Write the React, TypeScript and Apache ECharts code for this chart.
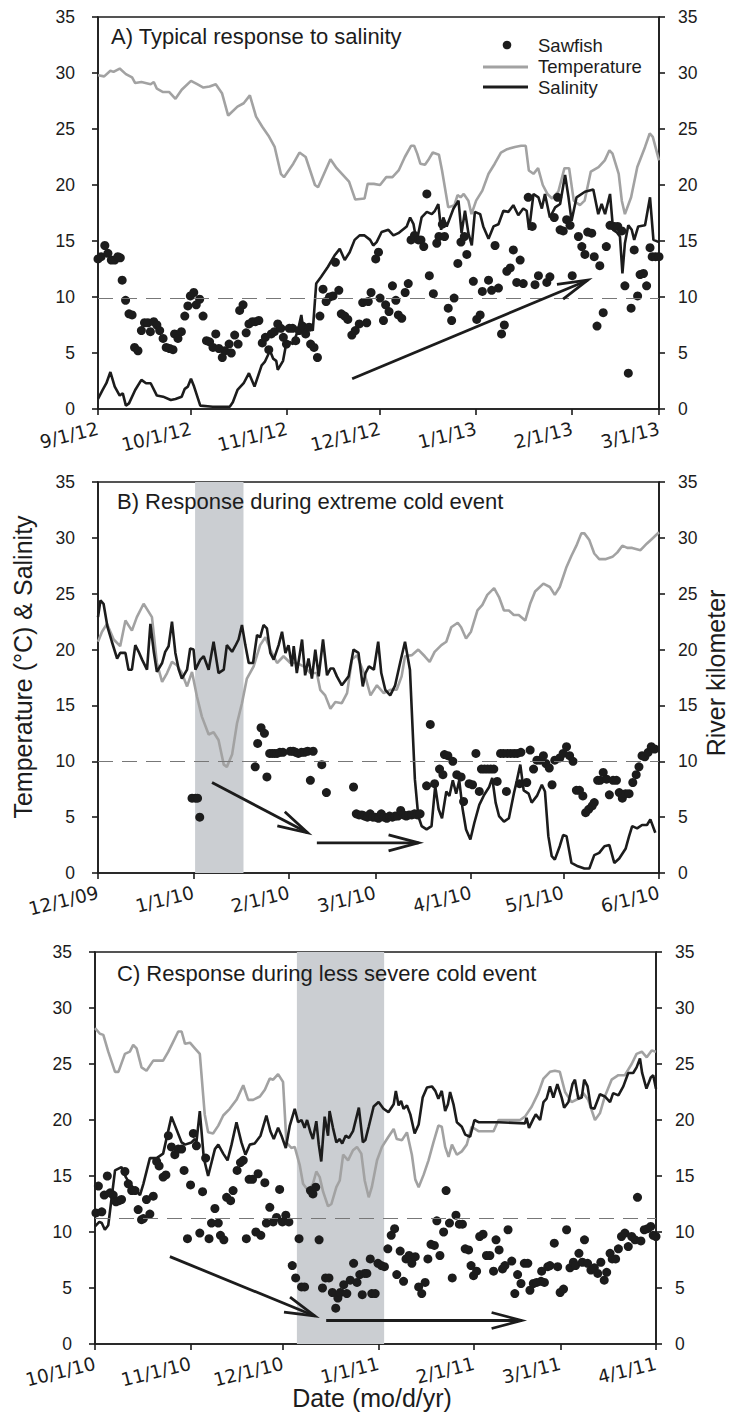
import React, { useEffect, useRef } from "react";
import * as echarts from "echarts";

const FONT = '"Liberation Sans", Arial, Helvetica, sans-serif';
const DATE_FONT = '"DejaVu Sans", "Liberation Sans", Arial, sans-serif';
const INK = "#1c1c1c";
const TEMP_GRAY = "#a2a2a2";
const SHADE = "#cbced2";

// ---------- Panel A: 9/1/12 – 3/1/13 (x = days since 9/1/12) ----------
const ticksA = [0, 30, 61, 91, 122, 153, 181];
const tickLabelsA = ["9/1/12", "10/1/12", "11/1/12", "12/1/12", "1/1/13", "2/1/13", "3/1/13"];
const tempA = [
  [0, 29.8], [2, 29.7], [4, 30.2], [5, 30.1], [7, 30.4], [9, 29.9], [11, 29.6], [12, 29.1], [14, 29.2],
  [17, 29.0], [18, 29.2], [19, 28.6], [21, 28.3], [23, 28.3], [25, 27.7], [27, 28.5], [30, 29.3], [32, 29.0],
  [34, 28.7], [36, 28.8], [38, 29.0], [40, 28.2], [42, 26.2], [45, 27.0], [47, 27.3], [49, 28.0], [51, 26.1],
  [53, 25.2], [55, 24.4], [57, 23.4], [59, 21.0], [60, 20.7], [63, 21.9], [65, 22.9], [67, 22.5], [70, 20.0],
  [71, 19.8], [75, 22.3], [77, 21.5], [81, 20.3], [83, 18.7], [86, 18.8], [87, 20.1], [89, 20.1], [91, 20.0],
  [93, 20.7], [95, 20.7], [97, 21.3], [99, 22.5], [101, 23.5], [102, 23.5], [103, 22.8], [104, 21.9],
  [105.5, 21.8], [106.5, 22.2], [108, 22.9], [110, 22.7], [111, 21.3], [113, 18.0], [115, 18.2], [116, 19.1],
  [117, 18.9], [118, 19.2], [119.5, 18.6], [120.5, 17.4], [122, 18.6], [124, 19.5], [126, 21.0], [128, 21.9],
  [130, 22.9], [132, 23.2], [134.5, 23.4], [136.5, 23.5], [138, 23.5], [139, 21.3], [140.5, 21.0], [142, 21.5],
  [143.5, 20.0], [145, 19.2], [146.5, 18.8], [148.5, 19.4], [150.5, 21.5], [152, 21.5], [153.5, 18.6],
  [155.5, 18.2], [157, 18.6], [159, 21.2], [161.5, 21.6], [163.5, 22.2], [165, 23.1], [166, 22.8], [168, 21.0],
  [169, 18.6], [170, 17.4], [172, 18.9], [174, 21.6], [176.5, 23.4], [178, 24.6], [179, 24.3], [181, 22.2],
];
const salA = [
  [0, 0.9], [1.5, 1.7], [2.7, 2.3], [4, 3.3], [5.4, 2.0], [7, 1.2], [8, 1.4], [9, 0.3], [10, 0.5], [12, 1.7],
  [14, 2.6], [15.5, 2.3], [17, 2.3], [19, 1.2], [21, 1.1], [23.5, 0.8], [25, 0.9], [27, 1.1], [28, 1.8],
  [29, 2.0], [30, 2.7], [31, 2.0], [33, 0.3], [37, 0.2], [42.5, 0.2], [43.5, 0.6], [45, 1.7], [47, 2.3],
  [48.7, 3.2], [50.5, 2.0], [52.8, 3.9], [53.8, 4.2], [55.5, 5.2], [56.5, 4.5], [57.5, 4.3], [58, 3.5],
  [59.7, 4.3], [60.5, 5.5], [61.8, 6.0], [62.9, 5.8], [64.5, 7.0], [65.6, 8.4], [66.6, 6.4], [67.7, 7.5],
  [69.3, 7.0], [70.4, 11.2], [72, 11.8], [74.2, 12.7], [76.3, 13.7], [78, 14.3], [79.6, 13.3], [81.2, 14.0],
  [82.8, 15.1], [84.4, 15.5], [86, 15.5], [87.8, 15.1], [88.8, 14.6], [89.9, 14.9], [91.5, 15.8], [93.7, 16.0],
  [95.3, 15.5], [96.9, 15.7], [99.6, 16.3], [100.7, 17.1], [101.8, 16.5], [102.8, 14.9], [104.4, 17.1],
  [106.1, 17.6], [107.7, 17.4], [108.7, 17.7], [109.8, 18.3], [110.7, 16.0], [111.4, 17.1], [112.5, 16.3],
  [114.7, 17.9], [116.3, 18.6], [117.3, 15.7], [118.4, 17.7], [119.5, 15.7], [120.6, 14.6], [121.6, 17.6],
  [123.3, 17.4], [124.3, 16.3], [126, 15.2], [127.6, 16.3], [129.2, 16.5], [130.8, 17.7], [132.4, 17.6],
  [134, 18.2], [135.6, 17.3], [137.2, 17.9], [138.3, 17.7], [139.1, 16.0], [140.5, 19.2], [142.1, 18.9],
  [143.2, 17.9], [144.2, 19.2], [145.8, 17.1], [147.5, 18.0], [149.1, 18.3], [150.7, 20.9], [151.8, 18.9],
  [152.8, 16.8], [154.4, 18.9], [157.1, 19.4], [159.8, 19.6], [161.4, 17.4], [162.5, 18.3], [163.6, 17.4],
  [165.2, 19.2], [166.2, 16.0], [167.3, 15.8], [168.4, 15.4], [169.2, 12.1], [170, 14.8], [171.1, 16.4],
  [172.2, 16.0], [173, 15.1], [174.3, 16.3], [176.5, 16.4], [178.1, 18.9], [179.2, 15.1], [181, 14.9],
];
const sawA = [
  [0, 13.4], [1, 13.6], [2.2, 14.6], [3.2, 13.9], [4.3, 13.3], [5.4, 13.3], [6.4, 13.6], [7.2, 13.5],
  [7.8, 11.5], [8.9, 9.7], [10, 8.5], [11, 8.4], [11.8, 5.5], [12.9, 5.2], [14, 7.0], [15, 7.7], [16.1, 7.7],
  [16.9, 6.9], [18, 7.8], [19, 7.5], [19.9, 7.0], [21, 6.3], [22, 5.5], [23.1, 5.4], [24.2, 5.3], [24.7, 6.7],
  [25.8, 6.3], [26.9, 6.9], [28, 8.3], [29, 9.2], [29.8, 10.1], [30.9, 10.4], [31.7, 9.3], [32.8, 9.8],
  [33.9, 8.3], [35, 6.1], [36, 6.0], [37.1, 5.5], [38, 6.7], [39, 5.4], [40.1, 4.6], [40.9, 5.2], [42.3, 5.8],
  [43, 5.0], [44.1, 6.6], [45.2, 5.8], [45.7, 8.8], [46.8, 9.3], [47.8, 6.8], [48.7, 7.6], [49.8, 7.8],
  [50.8, 7.8], [51.9, 7.9], [53, 5.9], [54, 6.4], [55.1, 5.3], [55.9, 6.7], [56.9, 6.9], [58, 7.6], [59, 7.2],
  [59.8, 6.4], [60.8, 5.8], [61.7, 7.2], [62.8, 7.2], [63.8, 6.1], [64.9, 7.0], [66, 7.4], [67, 6.7],
  [68.1, 7.3], [68.6, 5.8], [69.7, 5.5], [70.8, 4.6], [71.6, 8.3], [72.6, 10.7], [73.6, 9.6], [74.7, 10.0],
  [75.8, 10.1], [76.6, 13.1], [77.7, 10.6], [78.5, 8.5], [79.6, 8.3], [80.6, 8.0], [81.9, 6.6], [83, 7.0],
  [84.3, 7.6], [85.4, 9.5], [86.7, 7.7], [87.2, 9.6], [88.1, 10.4], [89.6, 13.4], [90.5, 14.0], [91, 9.9],
  [92.1, 7.9], [92.8, 9.3], [93.9, 8.7], [95, 11.0], [96.1, 9.7], [96.9, 8.4], [98, 8.1], [99.1, 10.4],
  [100.1, 11.2], [101, 15.1], [102.1, 15.5], [103.4, 15.1], [104.2, 15.1], [105.1, 14.5], [106.1, 19.2],
  [106.9, 11.9], [108.2, 10.3], [109.3, 14.8], [110, 15.4], [111.1, 16.5], [111.8, 15.4], [113, 9.0],
  [114.1, 7.9], [114.9, 9.9], [116.1, 13.0], [117.1, 14.9], [118.2, 15.4], [119, 13.8], [121.1, 11.4],
  [122.2, 8.0], [123.3, 8.4], [124, 10.5], [126, 11.5], [127, 10.6], [128.1, 14.6], [129.2, 10.8],
  [130.2, 6.7], [131.1, 7.5], [131.9, 12.3], [133, 12.6], [134, 14.2], [135.1, 11.3], [136.2, 13.3],
  [137.2, 11.2], [138.8, 18.9], [140.1, 16.3], [141, 11.1], [142.1, 11.9], [144.8, 11.3], [145.8, 11.8],
  [147.2, 17.1], [148.3, 18.9], [149.1, 16.0], [150.1, 15.9], [151.2, 16.9], [152.3, 16.4], [153, 11.9],
  [155, 15.4], [156.1, 14.5], [157.1, 13.8], [158, 15.8], [159.3, 15.7], [160.1, 13.6], [161, 7.4],
  [161.9, 12.8], [163, 8.6], [164, 14.5], [165.2, 16.4], [166.6, 16.3], [167.7, 16.3], [169, 15.9],
  [170, 11.0], [171.1, 3.2], [172, 9.0], [173, 14.2], [174.1, 10.1], [174.9, 12.0], [176, 12.1], [177, 11.0],
  [178.1, 14.4], [178.8, 13.6], [179.9, 13.6], [181, 13.6],
];
const thresholdA = 9.9;
const arrowsA = [[82, 2.7, 158, 11.5]];

// ---------- Panel B: 12/1/09 – 6/1/10 (x = days since 12/1/09) ----------
const ticksB = [0, 31, 62, 90, 121, 151, 182];
const tickLabelsB = ["12/1/09", "1/1/10", "2/1/10", "3/1/10", "4/1/10", "5/1/10", "6/1/10"];
const tempB = [
  [0, 20.7], [1.3, 21.6], [2.9, 22.3], [5.1, 20.9], [7.2, 20.3], [8.9, 22.6], [11, 21.7], [12.6, 22.9],
  [14.8, 24.1], [16.4, 23.4], [17.5, 22.9], [19.1, 18.8], [20.8, 17.1], [22.4, 17.9], [24, 18.9], [25.6, 18.6],
  [27.2, 17.9], [28.9, 16.7], [30.5, 18.0], [32.1, 15.8], [33.7, 14.0], [35.9, 12.4], [37.5, 12.6],
  [39.1, 11.9], [40.8, 9.7], [41.8, 9.5], [43.5, 10.6], [45.1, 13.4], [46.7, 15.2], [48.3, 17.4], [50.5, 18.5],
  [52.6, 20.4], [54.3, 21.1], [55.9, 20.0], [58.1, 18.8], [60.2, 19.4], [62.4, 18.8], [64.5, 18.8],
  [66.7, 18.5], [68.9, 17.9], [71, 17.9], [72.1, 16.4], [73.7, 15.9], [75.4, 14.7], [77, 15.3], [79.1, 15.2],
  [80.8, 16.1], [82.4, 19.1], [84, 19.5], [86.7, 17.6], [88.4, 15.9], [90.5, 16.8], [92.7, 16.1],
  [94.8, 16.4], [96.9, 16.4], [98.5, 17.6], [99.6, 19.4], [101.8, 19.5], [103.9, 20.0], [106, 19.4],
  [107.6, 18.9], [109.2, 19.8], [111.4, 20.4], [113, 20.7], [114.6, 22.0], [116.7, 22.4], [117.8, 22.0],
  [119.4, 21.0], [121, 21.6], [123.1, 23.5], [124.7, 24.0], [126.3, 24.9], [128.5, 25.5], [130.1, 24.7],
  [131.7, 23.5], [133.3, 23.5], [134.9, 23.1], [136.5, 23.1], [138.6, 22.6], [140.2, 24.1], [141.8, 25.2],
  [144.5, 25.9], [146.6, 25.6], [148.2, 24.9], [149.8, 25.6], [152, 27.4], [153.6, 28.4], [155.2, 29.3],
  [156.8, 30.4], [157.8, 30.4], [159.4, 29.8], [161, 28.6], [162.6, 28.1], [164.8, 28.1], [166.9, 28.3],
  [168.5, 28.7], [170.1, 29.3], [171.7, 29.1], [173.3, 29.1], [176, 28.9], [178.1, 29.5], [179.7, 29.9],
  [182, 30.5],
];
const salB = [
  [0, 22.9], [0.8, 24.4], [1.8, 24.1], [3.1, 22.0], [4.5, 20.7], [6.2, 19.2], [7.2, 19.7], [8.9, 19.7],
  [9.9, 18.2], [11, 18.2], [12.1, 20.4], [13.2, 19.8], [14.3, 19.1], [15.9, 18.2], [17, 22.3], [18.1, 19.8],
  [19.1, 18.0], [20.8, 18.8], [21.8, 19.8], [22.9, 20.3], [24, 22.5], [25.1, 19.7], [26.2, 18.2],
  [27.2, 17.4], [28.9, 18.2], [29.9, 20.1], [31, 20.0], [31.6, 18.2], [33.2, 19.1], [34.3, 19.4],
  [35.9, 18.2], [37.5, 20.7], [39.1, 17.9], [40.8, 18.2], [41.8, 20.4], [43.5, 19.8], [44.5, 20.3],
  [45.6, 20.9], [46.7, 22.2], [47.8, 20.4], [48.9, 18.8], [50.3, 18.8], [51.6, 21.3], [52.6, 21.1],
  [53.7, 22.2], [54.8, 21.9], [55.9, 19.7], [57, 19.1], [58.6, 20.4], [59.7, 21.6], [60.8, 19.7],
  [61.8, 20.4], [62.9, 18.5], [63.5, 20.3], [64.5, 17.9], [66.2, 20.9], [67.2, 17.7], [68.3, 19.2],
  [69.4, 17.4], [70.5, 20.0], [71.6, 17.6], [73, 20.9], [74.3, 17.7], [75.4, 18.3], [76.4, 18.3],
  [77.5, 17.6], [79.1, 16.8], [81.3, 17.6], [82.9, 20.0], [84.5, 19.7], [85.9, 16.7], [86.8, 17.9],
  [87.9, 18.5], [89.5, 18.2], [90.9, 20.7], [91.9, 17.9], [93.2, 16.4], [94.8, 15.9], [96.4, 16.8],
  [98, 18.8], [99.6, 20.7], [101.2, 18.2], [102.8, 8.4], [103.9, 5.1], [105, 4.2], [106.6, 3.9], [108.2, 4.2],
  [109.4, 7.8], [110.5, 5.7], [111.6, 4.9], [113, 7.3], [114, 6.9], [115.1, 8.3], [116.2, 7.1], [117.2, 8.3],
  [118.3, 5.7], [119.4, 3.9], [120.8, 3.0], [122.1, 4.5], [123.7, 6.1], [125.3, 7.0], [126.9, 7.7],
  [127.9, 8.5], [129, 6.3], [130.1, 5.1], [131.7, 4.6], [133.3, 4.9], [134.9, 7.1], [135.9, 8.3], [137, 9.7],
  [138.1, 7.4], [139.7, 7.1], [140.7, 6.3], [142.4, 6.9], [144, 7.9], [145, 7.3], [146.1, 3.3], [147.2, 1.5],
  [148.2, 1.2], [149.8, 2.4], [150.9, 3.4], [152, 3.3], [153.6, 0.9], [155.7, 0.6], [157.8, 0.4],
  [159.4, 0.4], [161, 1.6], [162.6, 1.8], [164.3, 2.4], [165.9, 2.5], [167.5, 0.9], [169.1, 1.3], [171.2, 2.2],
  [172.3, 3.3], [173.3, 4.2], [174.9, 4.0], [176.5, 4.3], [178.1, 4.3], [179.2, 4.8], [180.8, 3.6],
];
const sawB = [
  [30.5, 6.7], [31.6, 6.7], [32.3, 6.7], [33, 5.0], [51, 9.5], [51.8, 11.6], [52.9, 13.0], [54, 12.5],
  [54.8, 8.6], [55.7, 10.7], [56.5, 10.7], [57.3, 10.7], [58.1, 10.7], [59, 10.8], [60, 10.8], [62.4, 10.9],
  [63.3, 10.9], [64.2, 10.8], [65, 10.7], [66, 10.8], [67, 10.8], [68, 10.9], [68.9, 8.3], [69.8, 10.9],
  [72.6, 9.7], [74.1, 7.2], [82.9, 7.7], [83.8, 5.3], [84.7, 5.2], [85.6, 5.2], [86.5, 5.1], [87.4, 5.0],
  [88.3, 5.3], [89.2, 5.0], [90.1, 5.0], [91, 4.9], [91.9, 5.3], [92.8, 5.0], [93.7, 4.9], [94.6, 5.1],
  [95.5, 5.0], [96.4, 5.1], [97.3, 5.1], [98.2, 5.6], [99.1, 5.2], [100, 5.1], [100.9, 5.2], [101.8, 5.2],
  [102.7, 5.3], [103.6, 5.2], [104.5, 5.3], [106.6, 7.8], [107.8, 13.3], [109.2, 8.0], [110.8, 9.3],
  [111.9, 8.8], [112.4, 10.6], [113.5, 10.5], [115.1, 10.0], [116.4, 8.8], [117.8, 8.6], [118.6, 6.4],
  [120.4, 8.0], [121.5, 7.9], [122.6, 10.7], [123.7, 7.3], [124.4, 9.3], [125.4, 9.3], [126.4, 9.3],
  [127.4, 9.3], [128.4, 9.3], [129.5, 8.2], [130.6, 10.7], [131.6, 10.7], [132.5, 7.3], [132.8, 10.7],
  [133.9, 10.7], [135, 10.7], [136, 10.7], [136.8, 8.0], [137.2, 10.8], [139.1, 8.1], [140.2, 11.0],
  [141.3, 9.3], [142.4, 10.1], [143.4, 10.1], [144.5, 10.5], [145.3, 9.8], [146.4, 9.4], [147.3, 7.9],
  [148.2, 10.1], [149.8, 10.3], [150.9, 10.7], [152, 11.3], [153, 10.5], [154.1, 10.0], [155.2, 7.4],
  [156.2, 7.4], [157.3, 6.9], [158.2, 5.4], [159.2, 5.7], [160.3, 6.0], [161, 6.3], [162.1, 8.3],
  [162.9, 8.3], [163.9, 9.0], [165, 8.4], [165.9, 7.0], [167.1, 8.3], [168.2, 8.3], [169.1, 7.2],
  [170.1, 6.7], [171.2, 7.1], [172.3, 7.1], [173.5, 8.1], [174.6, 8.8], [175.5, 9.5], [176.5, 10.5],
  [177.4, 10.4], [178.5, 10.8], [179.5, 11.3], [180.6, 11.1],
];
const thresholdB = 10.0;
const coldEventB = [31.5, 47.2];
const arrowsB = [[37, 8.1, 68, 3.6], [71, 2.7, 104, 2.7]];

// ---------- Panel C: 10/1/10 – 4/1/11 (x = days since 10/1/10) ----------
const ticksC = [0, 31, 61, 92, 123, 151, 182];
const tickLabelsC = ["10/1/10", "11/1/10", "12/1/10", "1/1/11", "2/1/11", "3/1/11", "4/1/11"];
const tempC = [
  [0, 28.2], [1.6, 27.7], [2.7, 27.6], [4.3, 26.1], [6.5, 24.3], [7.6, 24.3], [9.7, 25.9], [11.3, 26.1],
  [12.4, 26.7], [13.5, 26.4], [15.1, 24.7], [16.7, 24.4], [18.9, 25.3], [22.1, 25.3], [23.8, 26.1],
  [25.4, 27.0], [27, 27.9], [28.1, 27.9], [29.2, 26.8], [30.8, 26.9], [32.4, 26.4], [34, 25.9], [35.6, 20.5],
  [36.7, 18.9], [38.3, 18.8], [40, 19.5], [41.6, 20.4], [43.7, 21.0], [45.9, 21.8], [48.1, 23.1],
  [49.7, 21.8], [51.3, 21.8], [53.5, 22.1], [55.1, 22.7], [56.7, 23.7], [57.8, 23.6], [59.4, 24.1],
  [61, 23.4], [62.1, 18.0], [63.7, 17.5], [64.8, 17.6], [66.4, 16.0], [67.5, 14.3], [69.1, 13.7],
  [70.7, 14.3], [71.8, 15.4], [72.9, 14.9], [74, 13.6], [75.6, 12.3], [76.7, 12.5], [78.3, 14.0],
  [79.4, 14.6], [80.5, 16.9], [82.1, 16.4], [83.7, 17.3], [85, 17.6], [86.4, 17.0], [87.5, 14.6],
  [88.8, 13.1], [89.8, 14.0], [91.5, 16.4], [93.1, 17.6], [95.2, 18.5], [96.9, 19.2], [97.9, 18.3],
  [99.6, 18.2], [101.2, 18.9], [102.8, 16.9], [103.9, 14.7], [105, 14.0], [106.6, 15.1], [108.2, 16.4],
  [109.8, 18.0], [111.4, 19.5], [112.5, 19.4], [113.6, 17.6], [114.7, 16.7], [115.8, 17.8], [117.4, 16.9],
  [119, 17.2], [120.6, 17.8], [122.2, 19.4], [124.4, 19.0], [126.6, 19.0], [129.3, 19.0], [130.9, 20.0],
  [133, 20.0], [135.2, 20.0], [137.9, 20.0], [139.5, 20.3], [141.7, 21.2], [143.8, 22.4], [145.5, 23.7],
  [147.6, 24.3], [149.2, 24.4], [150.8, 24.3], [152.5, 22.5], [154.6, 21.6], [156.8, 21.9], [158.4, 22.4],
  [160, 21.8], [162.2, 20.0], [163.8, 20.6], [165.4, 22.1], [167.6, 23.6], [169.8, 24.0], [171.9, 24.0],
  [174.1, 25.0], [175.7, 25.9], [177.4, 26.1], [179, 25.6], [180.6, 26.2], [182, 26.1],
];
const salC = [
  [0, 10.5], [1.4, 10.9], [2.2, 10.8], [3.2, 10.2], [4.3, 10.6], [6.5, 15.5], [8.6, 15.8], [10, 14.9],
  [11.3, 14.3], [14.6, 13.3], [15.7, 14.3], [17.8, 16.6], [20, 16.6], [22.1, 17.0], [24.8, 20.3],
  [28.1, 18.0], [29.2, 17.8], [31.3, 18.0], [32.4, 18.3], [32.9, 18.0], [34, 20.8], [35.3, 16.6],
  [36.7, 15.0], [38.9, 17.4], [40, 17.8], [41.6, 17.0], [43, 16.4], [44.3, 17.8], [45.9, 19.8], [47.5, 18.0],
  [48.8, 16.9], [50.2, 17.8], [51.8, 17.9], [53.7, 18.6], [55.6, 20.4], [56.9, 19.0], [58, 18.3],
  [59.4, 19.3], [60.5, 18.6], [61.9, 17.5], [63.2, 19.5], [64.8, 21.0], [65.9, 19.8], [67, 20.0], [68, 19.3],
  [68.8, 20.0], [69.9, 18.9], [70.7, 18.3], [71.8, 19.9], [72.6, 17.8], [73.4, 16.3], [74.5, 20.3],
  [75.6, 18.6], [76.1, 20.8], [77.2, 19.3], [78.3, 18.0], [79.4, 18.3], [80.2, 17.9], [81.3, 18.6],
  [82.4, 18.4], [83.7, 19.0], [85.6, 21.1], [86.9, 18.0], [87.7, 18.2], [88.8, 19.4], [90.4, 21.2],
  [92, 21.6], [93.6, 21.0], [95.2, 20.7], [96.9, 21.4], [97.6, 22.6], [98.5, 21.3], [99.3, 21.7],
  [100.1, 21.0], [101.2, 21.3], [102.3, 20.5], [103.7, 18.8], [105, 19.6], [106.3, 22.0], [107.7, 22.9],
  [109.3, 23.0], [110.4, 22.6], [111.4, 21.9], [112.5, 22.6], [113.6, 20.8], [114.5, 21.4], [115.2, 22.5],
  [116.3, 21.4], [117.4, 19.8], [119, 19.4], [120.1, 18.7], [121.7, 18.5], [123.1, 20.0], [124.4, 19.8],
  [130.9, 19.8], [139.5, 19.7], [140, 20.2], [140.8, 19.3], [142.2, 20.1], [143, 20.5], [144.4, 20.0],
  [145.5, 21.6], [146.5, 21.9], [147.6, 23.0], [148.7, 22.0], [150, 23.2], [151.4, 22.0], [152.2, 21.1],
  [153.6, 21.6], [154.9, 23.2], [155.7, 23.6], [156.8, 21.9], [157.9, 22.0], [158.7, 23.6], [159.8, 23.0],
  [160.9, 21.1], [162, 21.0], [163.8, 22.3], [165.4, 22.1], [167.1, 21.6], [168.1, 22.4], [169.8, 22.2],
  [171.4, 23.0], [173, 24.2], [174.6, 24.2], [175.7, 24.7], [176.8, 25.5], [177.5, 24.2], [178.9, 22.8],
  [180.3, 23.8], [181.1, 24.0], [182, 22.8],
];
const sawC = [
  [0.3, 11.7], [1.1, 14.1], [2.2, 11.8], [3, 13.3], [4, 15.0], [4.9, 13.5], [5.9, 13.3], [6.8, 12.7],
  [7.8, 12.8], [8.6, 12.9], [9.7, 15.4], [10.8, 14.3], [11.9, 13.7], [13, 13.7], [14, 12.0], [15.1, 11.1],
  [15.7, 11.2], [16.7, 12.9], [17.8, 11.6], [18.9, 13.2], [20, 16.3], [20.8, 15.9], [22.1, 14.9], [23, 15.1],
  [23.8, 18.6], [24.8, 17.6], [25.9, 16.9], [27, 17.4], [28.1, 17.4], [28.9, 15.5], [30, 9.4], [31, 14.2],
  [31.9, 18.8], [32.9, 17.7], [34, 9.9], [34.9, 13.6], [35.9, 16.6], [37, 9.4], [37.8, 10.8], [38.9, 12.1],
  [40, 10.8], [40.7, 9.7], [41.8, 9.3], [42.7, 13.1], [44, 12.8], [44.8, 13.7], [46.1, 15.5], [47.2, 16.2],
  [48.1, 16.4], [49.1, 9.4], [50, 14.7], [51.1, 14.7], [52.2, 10.0], [52.9, 15.2], [53.8, 9.7], [55.1, 14.4],
  [55.6, 10.8], [56.7, 12.2], [57.8, 10.9], [58.9, 11.3], [59.9, 13.8], [60.8, 10.9], [61.9, 11.5],
  [62.9, 10.9], [64, 7.0], [65.1, 5.9], [66.2, 9.4], [67, 5.1], [68, 5.1], [69.9, 13.7], [70.7, 13.4],
  [71.6, 14.0], [72.7, 9.3], [73.8, 5.0], [74.8, 5.9], [75.9, 5.9], [77, 4.6], [78.1, 3.2], [78.8, 4.1],
  [79.6, 4.6], [80.7, 5.3], [81.7, 4.5], [82.8, 5.7], [83.9, 7.2], [85, 5.5], [85.9, 6.2], [86.7, 4.4],
  [87.5, 6.3], [88.2, 6.3], [89.3, 7.6], [89.8, 4.5], [90.9, 4.5], [91.8, 7.2], [92.9, 7.0], [93.9, 6.9],
  [95, 8.5], [96.1, 9.7], [97.2, 10.3], [97.9, 6.2], [99, 8.3], [100.1, 5.6], [100.9, 7.6], [101.9, 7.9],
  [102.8, 7.2], [103.9, 7.8], [105, 5.1], [106, 4.5], [107.1, 5.5], [108, 7.6], [109, 8.9], [110.1, 8.8],
  [110.9, 11.0], [111.9, 7.9], [113.1, 10.0], [113.9, 13.7], [115, 10.8], [115.9, 5.9], [117.1, 11.5],
  [118.2, 10.7], [119.2, 10.7], [120.1, 8.5], [121.2, 8.4], [122, 7.0], [122.8, 6.1], [123.8, 6.5],
  [124.8, 9.6], [125.9, 9.8], [127, 7.9], [128.1, 7.9], [129.3, 6.5], [130.1, 9.3], [131.1, 8.4],
  [132.2, 6.7], [133, 7.0], [134, 10.2], [135.2, 7.4], [136.2, 4.5], [137.1, 6.2], [138.2, 5.4], [139.3, 7.2],
  [140.4, 7.2], [141.1, 4.8], [142.2, 5.4], [143.3, 5.5], [144.7, 5.6], [144.9, 6.5], [145.8, 5.5],
  [146.9, 6.9], [147.6, 7.0], [149, 9.0], [150.1, 6.9], [150.9, 4.6], [152, 4.9], [153, 10.2], [154.1, 6.8],
  [155.2, 7.3], [155.9, 7.0], [157, 8.1], [158.1, 7.3], [158.8, 9.3], [159.8, 7.2], [160.9, 6.6], [162, 6.8],
  [163.1, 6.3], [164.1, 7.3], [165.2, 5.7], [166, 6.4], [167.1, 8.1], [167.8, 7.6], [168.9, 7.6], [169.8, 8.5],
  [170.8, 9.6], [171.9, 9.9], [173, 8.7], [174.1, 9.6], [175.2, 9.3], [176, 13.1], [177.1, 9.2],
  [178.2, 10.2], [179.3, 10.3], [180.3, 10.5], [181.1, 9.7], [182, 9.6],
];
const thresholdC = 11.2;
const coldEventC = [65.5, 93.8];
const arrowsC = [[24.3, 7.8, 71.3, 2.5], [75, 2.1, 138.4, 2.1]];

const panels = [
  { title: "A) Typical response to salinity", ticks: ticksA, labels: tickLabelsA, temp: tempA, sal: salA, saw: sawA, threshold: thresholdA, cold: null as number[] | null, arrows: arrowsA, left: 98, top: 17, height: 392, titleTop: 25, titleLeft: 111 },
  { title: "B) Response during extreme cold event", ticks: ticksB, labels: tickLabelsB, temp: tempB, sal: salB, saw: sawB, threshold: thresholdB, cold: coldEventB, arrows: arrowsB, left: 98, top: 482, height: 391, titleTop: 490, titleLeft: 117 },
  { title: "C) Response during less severe cold event", ticks: ticksC, labels: tickLabelsC, temp: tempC, sal: salC, saw: sawC, threshold: thresholdC, cold: coldEventC, arrows: arrowsC, left: 95, top: 952, height: 392, titleTop: 962, titleLeft: 117 },
];

const PLOT_WIDTH = 561;

function arrowRenderer(params: any, api: any) {
  const p1 = api.coord([api.value(0), api.value(1)]);
  const p2 = api.coord([api.value(2), api.value(3)]);
  const ang = Math.atan2(p2[1] - p1[1], p2[0] - p1[0]);
  const L = 30;
  const W = 8;
  const bx = p2[0] - L * Math.cos(ang);
  const by = p2[1] - L * Math.sin(ang);
  const nx = -Math.sin(ang);
  const ny = Math.cos(ang);
  const style = { stroke: INK, lineWidth: 2.8, fill: null };
  return {
    type: "group",
    children: [
      { type: "line", shape: { x1: p1[0], y1: p1[1], x2: p2[0], y2: p2[1] }, style },
      { type: "polyline", shape: { points: [[bx + nx * W, by + ny * W], [p2[0], p2[1]], [bx - nx * W, by - ny * W]] }, style },
    ],
  };
}

function buildOption() {
  const grid: any[] = [];
  const xAxis: any[] = [];
  const yAxis: any[] = [];
  const series: any[] = [];
  const graphic: any[] = [];
  const axisLineStyle = { color: INK, width: 1.6 };

  panels.forEach((p, i) => {
    grid.push({
      left: p.left, top: p.top, width: PLOT_WIDTH, height: p.height,
      show: true, borderColor: INK, borderWidth: 1.6, backgroundColor: "transparent",
    });
    const last = p.ticks[p.ticks.length - 1];
    xAxis.push({
      gridIndex: i, type: "value", min: 0, max: last,
      axisLine: { show: true, onZero: false, lineStyle: axisLineStyle },
      axisTick: { show: true, inside: false, length: 6, customValues: p.ticks, lineStyle: axisLineStyle },
      axisLabel: {
        customValues: p.ticks, rotate: 14, margin: 19, fontSize: 18.5, color: INK, fontFamily: DATE_FONT,
        showMinLabel: true, showMaxLabel: true, hideOverlap: false,
        formatter: (v: number) => {
          const k = p.ticks.findIndex((t) => Math.abs(t - v) < 0.01);
          return k >= 0 ? p.labels[k] : "";
        },
      },
      splitLine: { show: false },
    });
    const yCommon = {
      gridIndex: i, type: "value", min: 0, max: 35, interval: 5,
      axisLine: { show: true, lineStyle: axisLineStyle },
      axisTick: { show: true, inside: false, length: 6, lineStyle: axisLineStyle },
      splitLine: { show: false },
    };
    yAxis.push({ ...yCommon, position: "left", axisLabel: { margin: 23, fontSize: 17.5, color: INK, fontFamily: FONT } });
    yAxis.push({ ...yCommon, position: "right", axisLabel: { margin: 19, fontSize: 17.5, color: INK, fontFamily: FONT } });

    const axes = { xAxisIndex: i, yAxisIndex: 2 * i };
    // cold-event shading and the dashed reference line
    series.push({
      type: "line", ...axes, data: [], z: 1, silent: true,
      markArea: p.cold
        ? { silent: true, itemStyle: { color: SHADE }, data: [[{ xAxis: p.cold[0] }, { xAxis: p.cold[1] }]] }
        : undefined,
      markLine: {
        silent: true, symbol: "none", label: { show: false },
        lineStyle: { color: "#777", width: 1.1, type: [15, 9] },
        data: [{ yAxis: p.threshold }],
      },
    });
    series.push({
      name: "Temperature", type: "line", ...axes, data: p.temp, z: 2, showSymbol: false, symbol: "none",
      lineStyle: { color: TEMP_GRAY, width: 2.6 }, silent: true,
    });
    series.push({
      name: "Salinity", type: "line", ...axes, data: p.sal, z: 3, showSymbol: false, symbol: "none",
      lineStyle: { color: INK, width: 2.6 }, silent: true,
    });
    series.push({
      name: "Sawfish", type: "scatter", ...axes, data: p.saw, z: 4, symbol: "circle", symbolSize: 9,
      itemStyle: { color: INK, opacity: 1 }, silent: true,
    });
    series.push({
      type: "custom", ...axes, data: p.arrows, z: 5, silent: true, clip: false,
      encode: { x: 0, y: 1 }, renderItem: arrowRenderer,
    });

    graphic.push({
      type: "text", left: p.titleLeft, top: p.titleTop, z: 100,
      style: { text: p.title, font: `22px ${FONT}`, fill: INK },
    });
  });

  // legend (panel A)
  graphic.push({ type: "circle", z: 100, shape: { cx: 507, cy: 45, r: 4.3 }, style: { fill: INK } });
  graphic.push({ type: "line", z: 100, shape: { x1: 483, y1: 67, x2: 528, y2: 67 }, style: { stroke: TEMP_GRAY, lineWidth: 3 } });
  graphic.push({ type: "line", z: 100, shape: { x1: 483, y1: 87, x2: 528, y2: 87 }, style: { stroke: INK, lineWidth: 3 } });
  ["Sawfish", "Temperature", "Salinity"].forEach((t, k) => {
    graphic.push({
      type: "text", x: 538, y: 45 + k * 21, z: 100,
      style: { text: t, font: `18.5px ${FONT}`, fill: INK, verticalAlign: "middle", align: "left" },
    });
  });

  // axis titles
  graphic.push({
    type: "text", x: 22.5, y: 667, rotation: Math.PI / 2, z: 100,
    style: { text: "Temperature (°C) & Salinity", font: `25px ${FONT}`, fill: INK, align: "center", verticalAlign: "middle" },
  });
  graphic.push({
    type: "text", x: 716, y: 673, rotation: Math.PI / 2, z: 100,
    style: { text: "River kilometer", font: `25px ${FONT}`, fill: INK, align: "center", verticalAlign: "middle" },
  });
  graphic.push({
    type: "text", x: 372, y: 1398, z: 100,
    style: { text: "Date (mo/d/yr)", font: `25px ${FONT}`, fill: INK, align: "center", verticalAlign: "middle" },
  });

  return { animation: false, backgroundColor: "#ffffff", grid, xAxis, yAxis, series, graphic };
}

export default function App() {
  const ref = useRef<HTMLDivElement>(null);
  useEffect(() => {
    if (!ref.current) return;
    const chart = echarts.init(ref.current, undefined, { renderer: "svg" });
    chart.setOption(buildOption() as any);
    return () => chart.dispose();
  }, []);
  return (
    <div
      ref={ref}
      style={{ position: "absolute", left: 0, top: 0, width: 730, height: 1420, background: "#fff" }}
    />
  );
}
